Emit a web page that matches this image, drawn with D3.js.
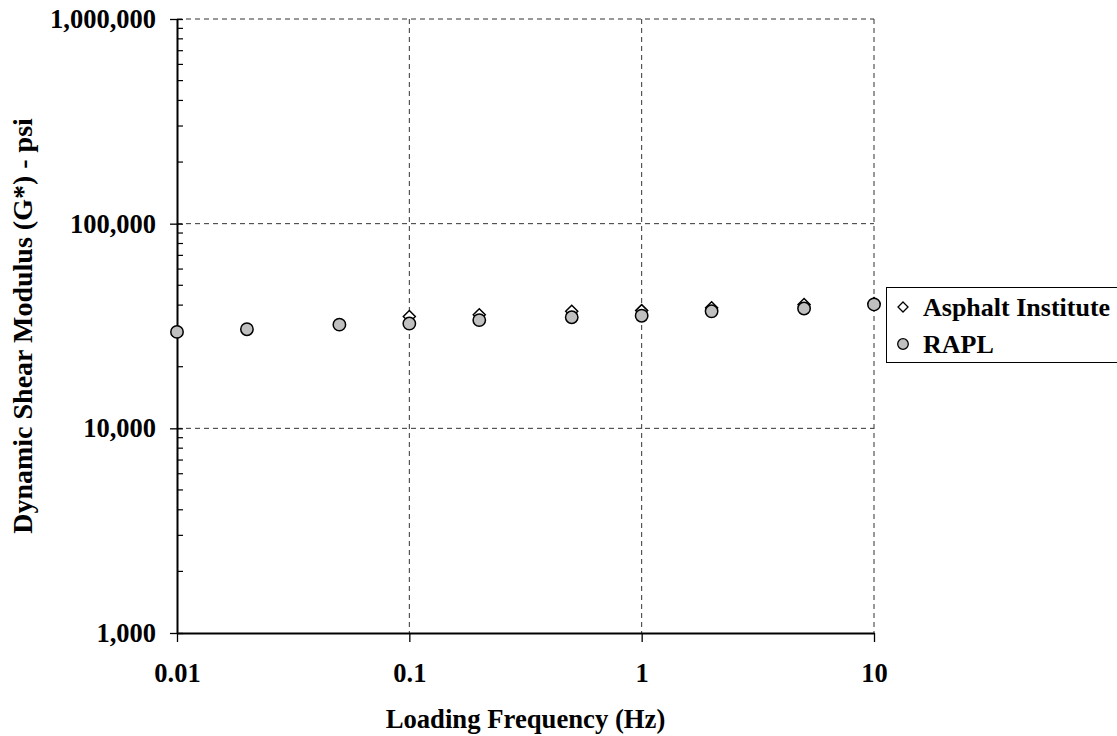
<!DOCTYPE html>
<html>
<head>
<meta charset="utf-8">
<script src="https://cdn.jsdelivr.net/npm/d3@7"></script>
<style>
  html, body { margin: 0; padding: 0; background: #fff; }
  svg { display: block; }
  text { font-family: "Liberation Serif", "Times New Roman", serif; font-weight: bold; fill: #000; }
</style>
</head>
<body>
<svg id="chart" width="1117" height="736"></svg>
<script>
// ---- data ----
const freqAI = [0.1, 0.2, 0.5, 1, 2, 5, 10];
const gAI = [35200, 35900, 37300, 37600, 38800, 40300, 40700];
const freqRAPL = [0.01, 0.02, 0.05, 0.1, 0.2, 0.5, 1, 2, 5, 10];
const gRAPL = [29600, 30500, 32100, 32500, 33800, 34900, 35500, 37300, 38500, 40300];
const xTicks = [0.01, 0.1, 1, 10];
const xTickLabels = ["0.01", "0.1", "1", "10"];
const yTicks = [1000, 10000, 100000, 1000000];
const yTickLabels = ["1,000", "10,000", "100,000", "1,000,000"];
const seriesNames = ["Asphalt Institute", "RAPL"];
const xTitle = "Loading Frequency (Hz)";
const yTitle = "Dynamic Shear Modulus (G*) - psi";

// ---- layout ----
const L = 177, R = 874, T = 19, B = 633;
const svg = d3.select("#chart");
const x = d3.scaleLog().domain([0.01, 10]).range([L, R]);
const y = d3.scaleLog().domain([1000, 1000000]).range([B, T]);

// grid
const grid = svg.append("g");
grid.selectAll(".vg").data(xTicks.slice(1)).enter().append("line")
  .attr("x1", d => x(d)).attr("x2", d => x(d)).attr("y1", T).attr("y2", B)
  .attr("stroke", "#333").attr("stroke-width", 1).attr("stroke-dasharray", "5,4");
grid.selectAll(".hg").data(yTicks.slice(1)).enter().append("line")
  .attr("x1", L).attr("x2", R).attr("y1", d => y(d)).attr("y2", d => y(d))
  .attr("stroke", "#333").attr("stroke-width", 1).attr("stroke-dasharray", "5,4");

// y minor ticks (inside)
const minor = [];
for (let e = 3; e < 6; e++) for (let m = 2; m <= 9; m++) minor.push(m * Math.pow(10, e));
svg.append("g").selectAll("line").data(minor).enter().append("line")
  .attr("x1", L).attr("x2", L + 6).attr("y1", d => y(d)).attr("y2", d => y(d))
  .attr("stroke", "#000").attr("stroke-width", 1.2);

// y axis
const yAxis = svg.append("g").attr("transform", `translate(${L},0)`)
  .call(d3.axisLeft(y).tickValues(yTicks)
    .tickFormat((d, i) => yTickLabels[i])
    .tickSizeInner(7).tickSizeOuter(0).tickPadding(14));
yAxis.select(".domain").attr("stroke-width", 2);
yAxis.selectAll(".tick line").attr("stroke-width", 1.3).attr("x2", -7).attr("x1", 6);
yAxis.selectAll("text").attr("font-family", "Liberation Serif, serif")
  .attr("font-weight", "bold").attr("font-size", 26.5);
yAxis.attr("font-family", null).attr("font-size", null);

// x axis
const xAxis = svg.append("g").attr("transform", `translate(0,${B})`)
  .call(d3.axisBottom(x).tickValues(xTicks)
    .tickFormat((d, i) => xTickLabels[i])
    .tickSizeInner(9).tickSizeOuter(0).tickPadding(21));
xAxis.select(".domain").attr("stroke-width", 2);
xAxis.selectAll(".tick line").attr("stroke-width", 1.3);
xAxis.selectAll("text").attr("font-family", "Liberation Serif, serif")
  .attr("font-weight", "bold").attr("font-size", 26.5);
xAxis.attr("font-family", null).attr("font-size", null);

// titles
svg.append("text").attr("x", (L + R) / 2).attr("y", 728)
  .attr("text-anchor", "middle").attr("font-size", 26.7).text(xTitle);
svg.append("text").attr("transform", `translate(32,${(T + B) / 2}) rotate(-90)`)
  .attr("text-anchor", "middle").attr("font-size", 28).text(yTitle);

// markers
const diamond = (cx, cy, h) => `M${cx},${cy - h}L${cx + h},${cy}L${cx},${cy + h}L${cx - h},${cy}Z`;
svg.append("g").selectAll("path").data(freqAI.map((f, i) => [f, gAI[i]])).enter().append("path")
  .attr("d", d => diamond(x(d[0]), y(d[1]), 6))
  .attr("fill", "#fff").attr("stroke", "#000").attr("stroke-width", 1.5);
svg.append("g").selectAll("circle").data(freqRAPL.map((f, i) => [f, gRAPL[i]])).enter().append("circle")
  .attr("cx", d => x(d[0])).attr("cy", d => y(d[1])).attr("r", 6.2)
  .attr("fill", "#c0c0c0").attr("stroke", "#000").attr("stroke-width", 1.5);

// legend
const lg = svg.append("g");
lg.append("rect").attr("x", 886.5).attr("y", 287.5).attr("width", 250).attr("height", 75)
  .attr("fill", "#fff").attr("stroke", "#000").attr("stroke-width", 1);
lg.append("path").attr("d", diamond(903, 307, 5))
  .attr("fill", "#fff").attr("stroke", "#000").attr("stroke-width", 1.3);
lg.append("circle").attr("cx", 903).attr("cy", 344).attr("r", 5.3)
  .attr("fill", "#c0c0c0").attr("stroke", "#000").attr("stroke-width", 1.3);
lg.append("text").attr("x", 923).attr("y", 316).attr("font-size", 26).text(seriesNames[0]);
lg.append("text").attr("x", 923).attr("y", 353).attr("font-size", 26).text(seriesNames[1]);
</script>
</body>
</html>
